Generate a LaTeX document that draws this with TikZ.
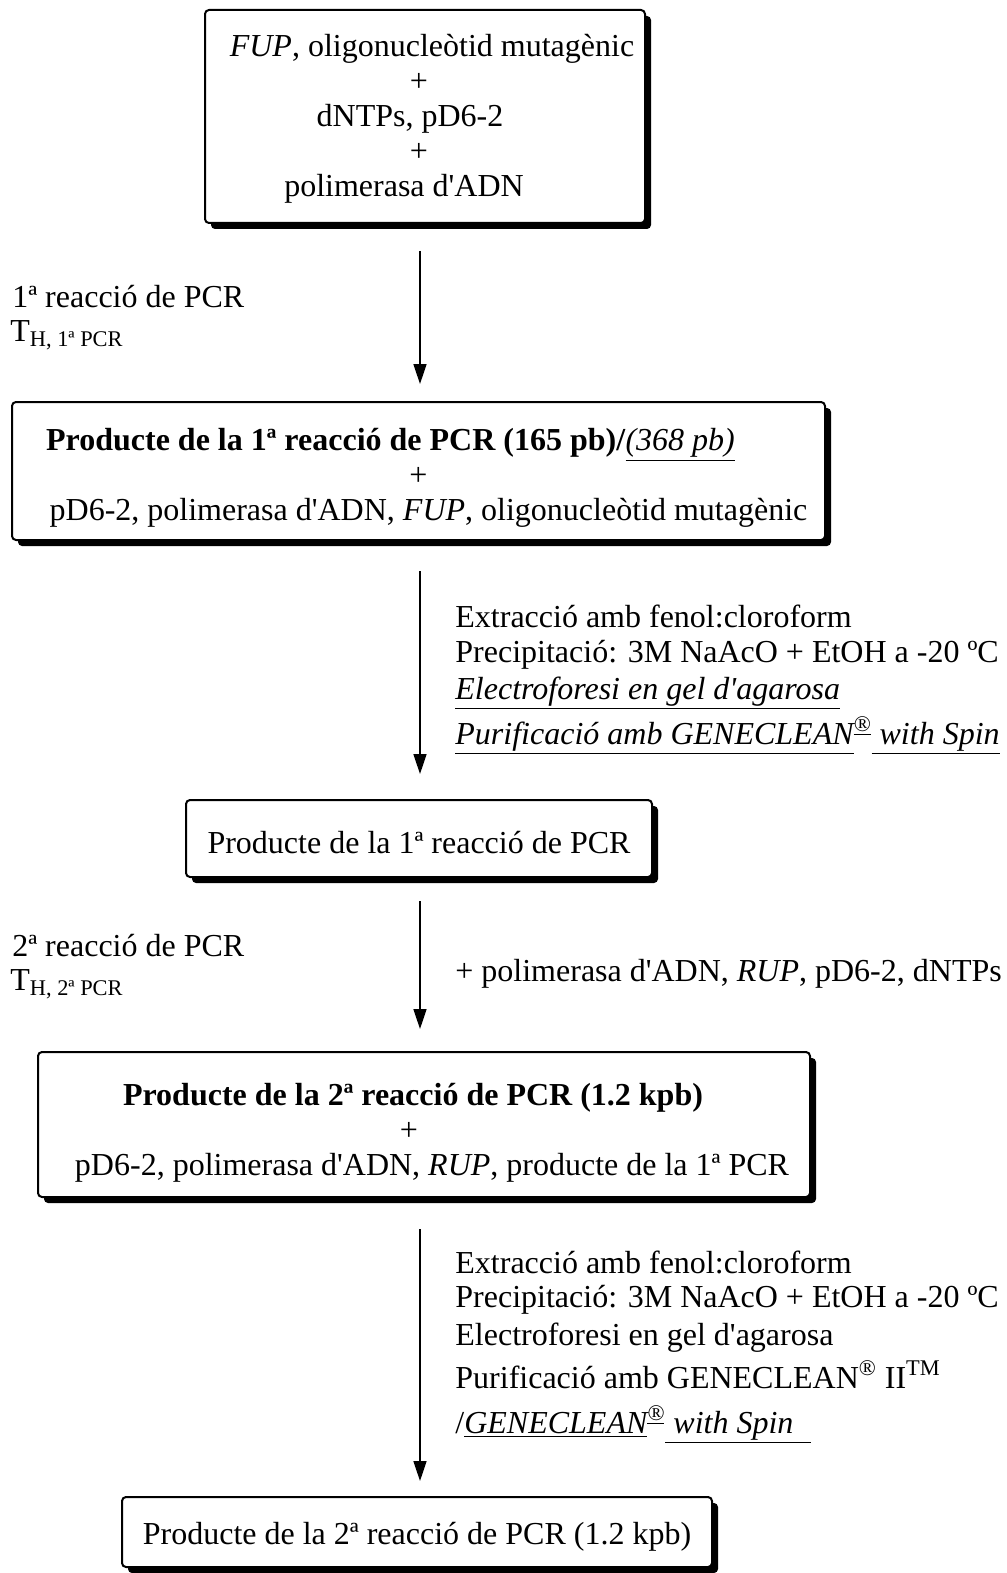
\documentclass[tikz,border=0pt]{standalone}
\usepackage{fontspec}
\setmainfont{Liberation Serif}
\usetikzlibrary{shadows,arrows.meta}
\newcommand\ap{\textquotesingle}
\newcommand\pre[1]{\hspace*{#1}}
\newcommand\post[1]{\hspace*{#1}\mbox{}}
\begin{document}
\begin{tikzpicture}[x=0.5pt,y=-0.5pt,
  every node/.style={font=\fontsize{16pt}{17.5pt}\selectfont, inner sep=0pt},
  box/.style={draw, line width=1pt, rounded corners=2pt, fill=white,
    drop shadow={shadow xshift=3pt, shadow yshift=-3pt, opacity=1, fill=black}},
  txt/.style={align=center},
  lbl/.style={anchor=base west},
  arr/.style={line width=0.8pt, -{Triangle[length=10pt,width=6.5pt]}}]
\useasboundingbox[fill=white] (0,0) rectangle (1006,1573);

\node[box, minimum width=220pt, minimum height=106.5pt] (b1) at (425,116.5) {};
\node[txt] (t1) at ([yshift=-1pt]b1.center)
  {\pre{7pt}\textit{FUP}, oligonucleòtid mutagènic\\+\post{6pt}\\dNTPs, pD6-2\post{15pt}\\+\post{6pt}\\polimerasa d\ap ADN\post{21pt}};
\node[box, minimum width=406.5pt, minimum height=69pt] (b2) at (418.5,471) {};
\node[txt] (t2) at ([yshift=-3.5pt]b2.center)
  {\textbf{Producte de la 1ª reacció de PCR (165 pb)/}\underline{\textit{(368 pb)}}\post{28pt}\\+\\\pre{10pt}pD6-2, polimerasa d\ap ADN, \textit{FUP}, oligonucleòtid mutagènic};
\node[box, minimum width=233pt, minimum height=38.5pt] (b3) at (419,838.5) {};
\node[txt] (t3) at ([yshift=-2pt]b3.center) {Producte de la 1ª reacció de PCR};
\node[box, minimum width=386pt, minimum height=72.5pt] (b4) at (424,1124.5) {};
\node[txt] (t4) at ([yshift=-4pt]b4.center)
  {\textbf{Producte de la 2ª reacció de PCR (1.2 kpb)}\post{11pt}\\+\post{15pt}\\\pre{8pt}pD6-2, polimerasa d\ap ADN, \textit{RUP}, producte de la 1ª PCR};
\node[box, minimum width=295pt, minimum height=35pt] (b5) at (417,1532) {};
\node[txt] (t5) at ([yshift=-2.5pt]b5.center) {Producte de la 2ª reacció de PCR (1.2 kpb)};

\coordinate (ax) at (420,0);
\draw[arr, shorten <=13.5pt, shorten >=8.5pt] (b1.south -| ax) -- (b2.north -| ax);
\draw[arr, shorten <=15pt, shorten >=12.5pt] (b2.south -| ax) -- (b3.north -| ax);
\draw[arr, shorten <=11.5pt, shorten >=11pt] (b3.south -| ax) -- (b4.north -| ax);
\draw[arr, shorten <=15.5pt, shorten >=7.5pt] (b4.south -| ax) -- (b5.north -| ax);

\node[lbl] (l1a) at (12,307) {1ª reacció de PCR};
\node[lbl] (l1b) at (10,341) {T\textsubscript{H, 1ª PCR}};

\node[lbl] (r2a) at (455,627) {Extracció amb fenol:cloroform};
\node[lbl] (r2b) at (455,662) {Precipitació: 3M NaAcO + EtOH a -20 ºC};
\node[lbl] (r2c) at (455,699) {\textit{\underline{Electroforesi en gel d\ap agarosa}}};
\node[lbl] (r2d) at (455,744) {\textit{\underline{Purificació amb GENECLEAN}\textsuperscript{\underline{®}}\underline{ with Spin}}};

\node[lbl] (l3a) at (12,956) {2ª reacció de PCR};
\node[lbl] (l3b) at (10,990) {T\textsubscript{H, 2ª PCR}};
\node[lbl] (r3a) at (455,981) {+ polimerasa d\ap ADN, \textit{RUP}, pD6-2, dNTPs};

\node[lbl] (r4a) at (455,1273) {Extracció amb fenol:cloroform};
\node[lbl] (r4b) at (455,1307) {Precipitació: 3M NaAcO + EtOH a -20 ºC};
\node[lbl] (r4c) at (455,1345) {Electroforesi en gel d\ap agarosa};
\node[lbl] (r4d) at (455,1388) {Purificació amb GENECLEAN\textsuperscript{®} II\textsuperscript{TM}};
\node[lbl] (r4e) at (455,1433) {/\textit{\underline{GENECLEAN}\textsuperscript{\underline{®}}\underline{ with Spin\hspace{9pt}}}};
\end{tikzpicture}
\end{document}
